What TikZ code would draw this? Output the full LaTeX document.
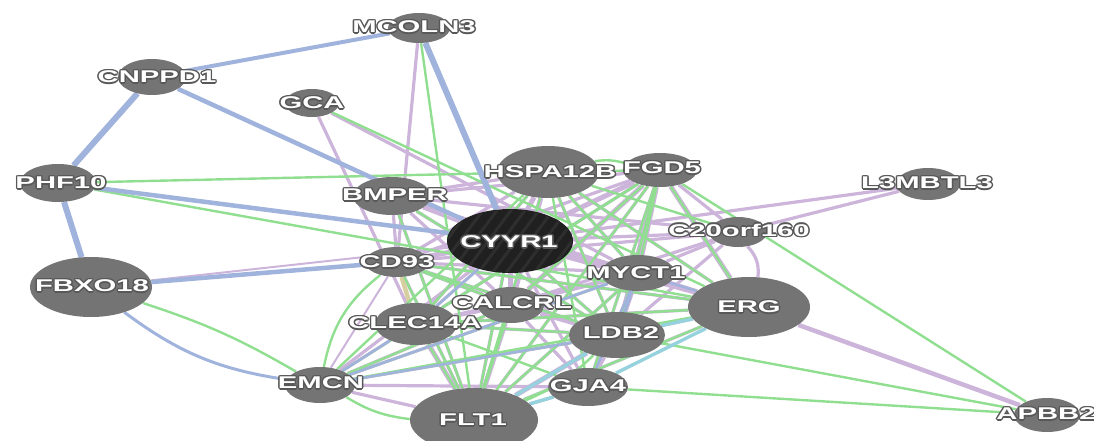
\documentclass[tikz,border=0pt]{standalone}
\usepackage{fontspec}
\setmainfont{Liberation Sans}
\usepackage{graphicx}
\usetikzlibrary{shapes.geometric,backgrounds}
\definecolor{pucol}{RGB}{204,180,218}
\definecolor{grcol}{RGB}{144,222,144}
\definecolor{blcol}{RGB}{160,179,220}
\definecolor{cycol}{RGB}{150,210,222}
\definecolor{tancol}{RGB}{216,207,160}
\definecolor{nodegray}{RGB}{116,116,116}
\definecolor{darknode}{RGB}{32,32,32}
\definecolor{stripecol}{RGB}{46,46,46}
\definecolor{olc}{RGB}{88,88,88}
\newcommand\outl[1]{\leavevmode
\rlap{\kern0.85pt\textcolor{olc}{#1}}%
\rlap{\kern-0.85pt\textcolor{olc}{#1}}%
\rlap{\raisebox{1.4pt}{\textcolor{olc}{#1}}}%
\rlap{\raisebox{-1.4pt}{\textcolor{olc}{#1}}}%
\rlap{\kern0.6pt\raisebox{1pt}{\textcolor{olc}{#1}}}%
\rlap{\kern-0.6pt\raisebox{1pt}{\textcolor{olc}{#1}}}%
\rlap{\kern0.6pt\raisebox{-1pt}{\textcolor{olc}{#1}}}%
\rlap{\kern-0.6pt\raisebox{-1pt}{\textcolor{olc}{#1}}}%
\textcolor{white}{#1}}
\newcommand\glab[1]{\scalebox{1.72}[1]{\outl{#1}}}
\begin{document}
\begin{tikzpicture}[x=1pt,y=-1pt,
  gnode/.style={ellipse, fill=nodegray, inner sep=0pt, draw=none},
  gn/.style 2 args={gnode, minimum width=#1pt, minimum height=#2pt},
  lbl/.style={inner sep=0pt, font=\fontsize{17}{17}\selectfont\bfseries},
  pu/.style={draw=pucol, line width=3.2pt},
  puT/.style={draw=pucol, line width=5pt},
  puF/.style={draw=pucol, line width=2pt},
  gr/.style={draw=grcol, line width=2.4pt},
  bl/.style={draw=blcol, line width=#1pt},
  cy/.style={draw=cycol, line width=3.4pt},
  tan/.style={draw=tancol, line width=4.5pt},
  stripe/.style={draw=stripecol, line width=3pt}]
\useasboundingbox (0,0) rectangle (1094,441);
\clip (0,0) rectangle (1094,441);
% nodes
\node[gn={62}{30}] (mco) at (419,28) {};
\node[gn={68}{36}] (cnp) at (152,77) {};
\node[gn={54}{28}] (gca) at (312,103) {};
\node[gn={76}{38}] (phf) at (58,183) {};
\node[gn={78}{38}] (bmp) at (392,196) {};
\node[gn={102}{52}] (hspa) at (548,172) {};
\node[gn={74}{34}] (fgd) at (660,170) {};
\node[gn={64}{32}] (l3m) at (928,184) {};
\node[gn={58}{30}] (c20) at (738,232) {};
\node[gnode, fill=darknode, minimum width=126pt, minimum height=64pt] (cyyr) at (510,241) {};
\node[gn={64}{30}] (cd) at (397,262) {};
\node[gn={74}{36}] (myc) at (638,273) {};
\node[gn={122}{60}] (erg) at (749,307) {};
\node[gn={66}{36}] (calc) at (511,305) {};
\node[gn={82}{42}] (clec) at (416,324) {};
\node[gn={96}{46}] (ldb) at (617,335) {};
\node[gn={80}{38}] (gja) at (588,387) {};
\node[gn={70}{36}] (emcn) at (320,385) {};
\node[gn={128}{64}] (flt) at (474,420) {};
\node[gn={66}{34}] (apbb) at (1047,415) {};
\node[gn={122}{60}] (fbx) at (91,287) {};
% stripes on CYYR1
\begin{scope}
\clip (510,241) ellipse [x radius=62pt, y radius=31pt];
\foreach \i in {-120,-106,...,120}
  \draw[stripe] (510+\i-30,281) -- (510+\i+30,201);
\end{scope}
% edges
\begin{pgfonlayer}{background}
\foreach \a/\b in {cyyr/bmp, cyyr/clec, cyyr/ldb, cyyr/flt, cyyr/gja, cyyr/c20, cyyr/emcn,
  fgd/clec, fgd/bmp, fgd/cd, fgd/c20, fgd/gja, fgd/flt, hspa/bmp, hspa/cd, hspa/myc,
  hspa/erg, hspa/ldb, hspa/clec, bmp/cd, bmp/myc, bmp/c20, bmp/calc, bmp/flt, bmp/erg, bmp/ldb,
  cd/myc, cd/calc, cd/ldb, cd/flt, cd/c20, cd/erg, c20/myc, c20/calc, c20/ldb,
  myc/calc, myc/clec, myc/flt, myc/emcn, myc/gja, calc/clec, calc/emcn, calc/gja,
  clec/ldb, clec/emcn, clec/erg, ldb/erg, ldb/gja, ldb/emcn, erg/flt, gja/flt, gja/emcn,
  flt/emcn, gca/clec, gca/myc, mco/cd, l3m/cyyr, l3m/c20}
  \draw[pu] (\a) -- (\b);
\draw[pu] (c20) to[bend left=25] (erg);
\foreach \a/\b in {cyyr/hspa, cyyr/fgd, cyyr/myc, cyyr/erg, cyyr/calc, fgd/erg, fgd/myc,
  fgd/ldb, hspa/calc, cd/cyyr, myc/ldb, calc/ldb, clec/flt, calc/flt, ldb/flt, fgd/calc}
  \draw[puT] (\a) -- (\b);
\draw[pu, line width=4.5pt] (erg) -- (apbb);
\foreach \a/\b in {fbx/cyyr, cd/emcn}
  \draw[puF] (\a) -- (\b);
\draw[tan] (cd) -- (clec);
% green
\foreach \a/\b in {phf/hspa, phf/erg, gca/erg, mco/flt, fgd/apbb, ldb/apbb, gja/apbb,
  hspa/fgd, hspa/ldb, hspa/gja, hspa/myc, hspa/flt, hspa/emcn, hspa/clec, hspa/erg, hspa/c20,
  fgd/erg, fgd/flt, fgd/gja, fgd/clec, fgd/calc, fgd/myc, fgd/emcn, fgd/ldb,
  emcn/calc, emcn/ldb, emcn/erg, emcn/myc, flt/calc, flt/cd, flt/clec, flt/myc, flt/erg,
  cd/calc, cd/ldb, cd/erg, clec/ldb, clec/erg, clec/gja, ldb/erg, bmp/flt, bmp/ldb,
  cyyr/flt, cyyr/ldb}
  \draw[gr] (\a) -- (\b);
\draw[gr] (hspa) to[bend left=12] (fgd);
\draw[gr] (fbx) to[bend left=6] (emcn);
\draw[gr] (emcn) to[bend left=20] (cd);
\draw[gr] (emcn) to[bend right=12] (flt);
\draw[gr] (flt) to[bend right=10] (ldb);
% blue
\draw[bl=4] (cnp) -- (mco);
\draw[bl=6] (cnp) -- (phf);
\draw[bl=4.5] (cnp) -- (cyyr);
\draw[bl=6] (phf) -- (fbx);
\draw[bl=4.5] (phf) -- (cyyr);
\draw[bl=6] (mco) -- (cyyr);
\draw[bl=4.5] (fbx) -- (cd);
\draw[bl=3] (fbx) to[bend right=14] (emcn);
\foreach \a/\b in {emcn/ldb, emcn/myc, emcn/clec, myc/gja, myc/erg, clec/cyyr}
  \draw[bl=2.5] (\a) -- (\b);
\draw[bl=3] (myc) -- (ldb);
% cyan
\foreach \a/\b in {ldb/erg, gja/flt, flt/ldb, gja/erg}
  \draw[cy] (\a) -- (\b);
\end{pgfonlayer}
% labels
\node[lbl] (lmco) at (414,27) {\glab{MCOLN3}};
\node[lbl] (lcnp) at (157,77) {\glab{CNPPD1}};
\node[lbl] (lgca) at (312,103) {\glab{GCA}};
\node[lbl] (lphf) at (61,183) {\glab{PHF10}};
\node[lbl] (lbmp) at (395,195) {\glab{BMPER}};
\node[lbl] (lhspa) at (550,172) {\glab{HSPA12B}};
\node[lbl] (lfgd) at (662,168) {\glab{FGD5}};
\node[lbl] (ll3m) at (927,183) {\glab{L3MBTL3}};
\node[lbl] (lc20) at (739,230) {\glab{C20orf160}};
\node[lbl] (lcyyr) at (509,242) {\glab{CYYR1}};
\node[lbl] (lcd) at (397,262) {\glab{CD93}};
\node[lbl] (lmyc) at (636,273) {\glab{MYCT1}};
\node[lbl] (lerg) at (749,307) {\glab{ERG}};
\node[lbl] (lcalc) at (512,303) {\glab{CALCRL}};
\node[lbl] (lclec) at (415,323) {\glab{CLEC14A}};
\node[lbl] (lldb) at (621,333) {\glab{LDB2}};
\node[lbl] (lgja) at (588,386) {\glab{GJA4}};
\node[lbl] (lemcn) at (321,383) {\glab{EMCN}};
\node[lbl] (lflt) at (473,420) {\glab{FLT1}};
\node[lbl] (lapbb) at (1046,414) {\glab{APBB2}};
\node[lbl] (lfbx) at (92,286) {\glab{FBXO18}};
\end{tikzpicture}
\end{document}
